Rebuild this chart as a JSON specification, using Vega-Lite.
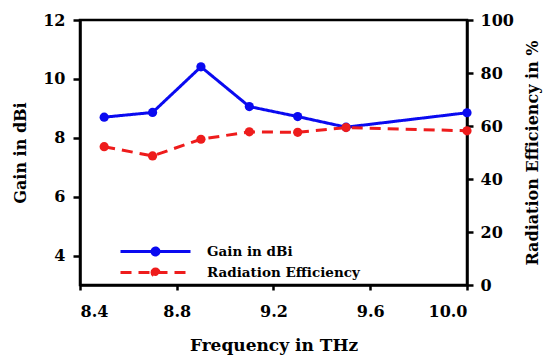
{
  "$schema": "https://vega.github.io/schema/vega-lite/v6.json",
  "width": 387,
  "height": 265,
  "autosize": "none",
  "padding": {"left": 80, "top": 20, "right": 76, "bottom": 71},
  "background": "white",
  "config": {
    "font": "DejaVu Serif",
    "view": {"stroke": "black", "strokeWidth": 2.5},
    "axis": {
      "grid": false,
      "domainColor": "black",
      "domainWidth": 2.5,
      "tickColor": "black",
      "tickWidth": 2.5,
      "labelFont": "DejaVu Serif",
      "labelFontWeight": "bold",
      "labelFontSize": 16,
      "labelColor": "black",
      "titleFont": "DejaVu Serif",
      "titleFontWeight": "bold",
      "titleFontSize": 16,
      "titleColor": "black"
    }
  },
  "data": {
    "values": [
      {"freq": 8.5, "gain": 8.70, "eff": 52.2},
      {"freq": 8.7, "gain": 8.86, "eff": 48.7},
      {"freq": 8.9, "gain": 10.41, "eff": 55.0},
      {"freq": 9.1, "gain": 9.06, "eff": 57.8},
      {"freq": 9.3, "gain": 8.72, "eff": 57.6},
      {"freq": 9.5, "gain": 8.36, "eff": 59.4},
      {"freq": 10.0, "gain": 8.85, "eff": 58.2}
    ]
  },
  "encoding": {
    "x": {
      "field": "freq",
      "type": "quantitative",
      "scale": {"domain": [8.4, 10.0], "nice": false, "zero": false},
      "axis": {
        "values": [8.4, 8.8, 9.2, 9.6, 10.0],
        "format": ".1f",
        "title": "Frequency in THz",
        "titleFontSize": 17,
        "tickSize": 5,
        "labelPadding": 13,
        "titlePadding": 18
      }
    }
  },
  "layer": [
    {
      "mark": {"type": "line", "strokeWidth": 3, "point": {"filled": true, "size": 85}},
      "encoding": {
        "y": {
          "field": "gain",
          "type": "quantitative",
          "scale": {"domain": [3, 12], "nice": false, "zero": false},
          "axis": {
            "orient": "left",
            "values": [4, 6, 8, 10, 12],
            "title": "Gain in dBi",
            "tickSize": 7,
            "labelPadding": 8,
            "titlePadding": 14
          }
        },
        "color": {
          "datum": "Gain in dBi",
          "type": "nominal",
          "scale": {"domain": ["Gain in dBi", "Radiation Efficiency"], "range": ["#0a0af0", "#ee1c1c"]},
          "legend": {
            "title": null,
            "orient": "none",
            "legendX": 64,
            "legendY": 220,
            "symbolType": "M-3.5,0L3.5,0M-0.35,0A0.35,0.35 0 1,1 0.35,0A0.35,0.35 0 1,1 -0.35,0",
            "symbolSize": 400,
            "symbolStrokeWidth": 3,
            "labelFont": "DejaVu Serif",
            "labelFontWeight": "bold",
            "labelFontSize": 13.5,
            "labelColor": "black",
            "labelOffset": 40,
            "rowPadding": 0,
            "encode": {"symbols": {"update": {"fill": {"scale": "color", "field": "value"}}}}
          }
        },
        "strokeDash": {
          "datum": "Gain in dBi",
          "type": "nominal",
          "scale": {"domain": ["Gain in dBi", "Radiation Efficiency"], "range": [[1, 0], [11, 7]]},
          "legend": null
        }
      }
    },
    {
      "mark": {"type": "line", "strokeWidth": 3, "point": {"filled": true, "size": 85}},
      "encoding": {
        "y": {
          "field": "eff",
          "type": "quantitative",
          "scale": {"domain": [0, 100], "nice": false},
          "axis": {
            "orient": "right",
            "values": [0, 20, 40, 60, 80, 100],
            "title": "Radiation Efficiency in %",
            "titleAngle": 270,
            "tickSize": 6,
            "labelPadding": 7,
            "titlePadding": 27
          }
        },
        "color": {"datum": "Radiation Efficiency", "type": "nominal"},
        "strokeDash": {"datum": "Radiation Efficiency", "type": "nominal", "legend": null}
      }
    }
  ],
  "resolve": {"scale": {"y": "independent"}}
}
